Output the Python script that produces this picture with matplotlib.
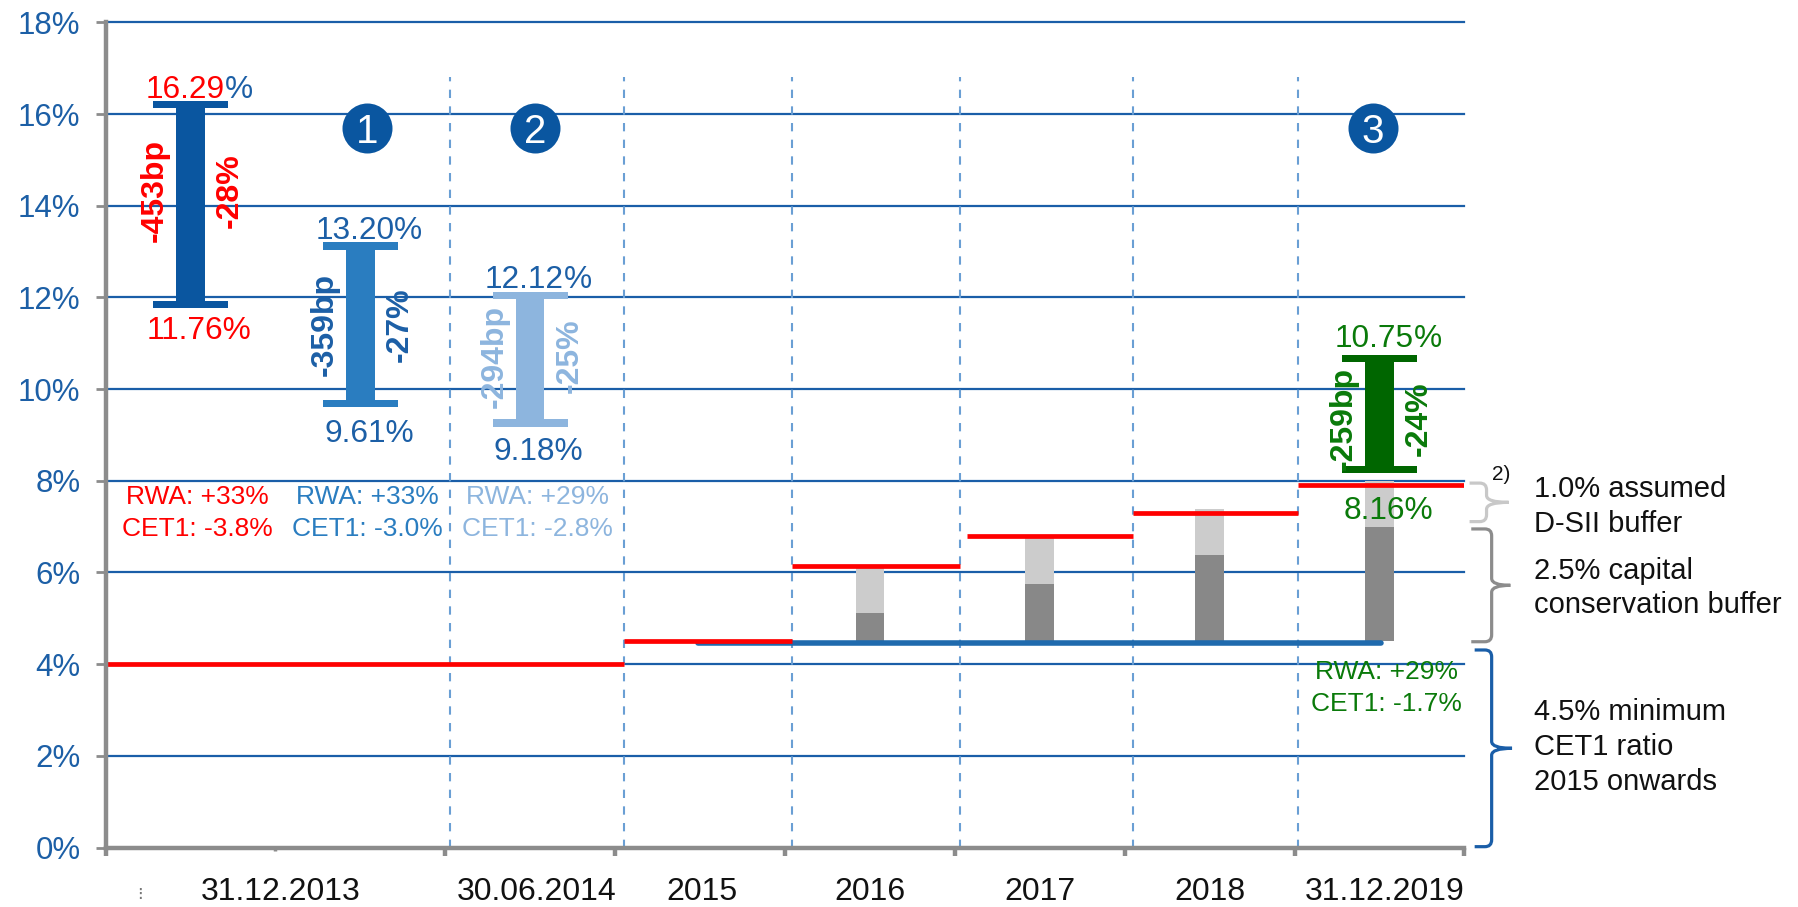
import matplotlib
matplotlib.use("Agg")
import matplotlib.pyplot as plt
from matplotlib.path import Path
from matplotlib.patches import PathPatch

plt.rcParams["font.family"] = ["Liberation Sans", "DejaVu Sans"]

# ---------------------------------------------------------------- data
period_labels = ["31.12.2013", "30.06.2014", "2015", "2016", "2017", "2018", "31.12.2019"]
period_pos = [1.03, 2.54, 3.51, 4.5, 5.5, 6.5, 7.53]

range_x = [0.5, 1.5, 2.5, 7.5]
range_top = [16.29, 13.20, 12.12, 10.75]
range_bottom = [11.76, 9.61, 9.18, 8.16]
range_bp = ["-453bp", "-359bp", "-294bp", "-259bp"]
range_pct = ["-28%", "-27%", "-25%", "-24%"]
rwa_change = ["+33%", "+33%", "+29%", "+29%"]
cet1_change = ["-3.8%", "-3.0%", "-2.8%", "-1.7%"]

# CET1 requirement steps (red)
req_start = [0.0, 3.05, 4.04, 5.07, 6.05, 7.02]
req_end = [3.05, 4.04, 5.03, 6.05, 7.02, 8.0]
req_level = [4.0, 4.5, 6.15, 6.8, 7.3, 7.9]

# phase-in of buffers on top of the 4.5% minimum
buffer_x = [4.5, 5.5, 6.5, 7.5]
min_cet1 = 4.5
ccb_top = [5.125, 5.75, 6.375, 7.0]
dsii_top = [6.125, 6.75, 7.375, 8.0]

step_x = [1.54, 2.53, 7.46]
step_labels = ["1", "2", "3"]

brace_ranges = [(7.0, 8.0), (4.5, 7.0), (0.0, 4.5)]
brace_lines = [["1.0% assumed", "D-SII buffer"],
               ["2.5% capital", "conservation buffer"],
               ["4.5% minimum", "CET1 ratio", "2015 onwards"]]

# ---------------------------------------------------------------- styles
GRID = "#1a5ea8"
AXIS = "#8c8c8c"
TICKBLUE = "#1c5fa6"
RED = "#ff0000"
GREEN = "#0a7a0a"
stem_colors = ["#0a56a0", "#2a7dc0", "#8db5de", "#006600"]
value_colors = [RED, TICKBLUE, TICKBLUE, GREEN]
top_pct_colors = [TICKBLUE, TICKBLUE, TICKBLUE, GREEN]
change_colors = [RED, TICKBLUE, "#8db5de", GREEN]
rwa_colors = [RED, "#2a7dc0", "#8db5de", GREEN]

fig = plt.figure(figsize=(17.98, 9.07), dpi=100)
ax = fig.add_axes([0.0587, 0.0655, 0.7558, 0.9099])
ax.set_xlim(0, 8)
ax.set_ylim(0, 18)

# axes, ticks, grid
for s in ("top", "right"):
    ax.spines[s].set_visible(False)
for s in ("left", "bottom"):
    ax.spines[s].set_color(AXIS)
    ax.spines[s].set_linewidth(3.2)
    ax.spines[s].set_zorder(8)

ax.set_yticks(range(0, 19, 2))
ax.set_yticklabels([f"{v}%" for v in range(0, 19, 2)])
ax.tick_params(axis="y", length=7, width=2, color=AXIS, labelsize=22.5,
               labelcolor=TICKBLUE, pad=11)
ax.yaxis.grid(True, color=GRID, lw=1.6)
ax.set_axisbelow(True)
for gl in ax.get_ygridlines():
    gl.set_clip_on(False)

ax.set_xticks([0, 2, 3, 4, 5, 6, 7, 8])
ax.set_xticklabels([])
ax.set_xticks([1], minor=True)
ax.tick_params(axis="x", which="major", length=6, width=3.2, color=AXIS)
ax.tick_params(axis="x", which="minor", length=2, width=2.5, color=AXIS)

xt = ax.get_xaxis_transform()
for lab, px in zip(period_labels, period_pos):
    ax.text(px, -0.0635, lab, transform=xt, ha="center", va="baseline",
            fontsize=23, color="#111111")
ax.text(0.2, -0.0635, "\u205d", transform=xt, ha="center", va="baseline",
        fontsize=13, color="#777777", family="DejaVu Sans")

# period dividers
ax.vlines([2.03, 3.05, 4.04, 5.03, 6.05, 7.02], 0, 16.8, colors="#6a9fd4",
          linestyles=(0, (4, 4)), lw=1.5, zorder=1)

# buffer phase-in columns
ax.bar(buffer_x, [c - min_cet1 for c in ccb_top], bottom=min_cet1, width=0.17,
       color="#888888", zorder=2)
ax.bar(buffer_x, [d - c for d, c in zip(dsii_top, ccb_top)], bottom=ccb_top,
       width=0.17, color="#cccccc", zorder=2)

# minimum floor and requirement steps
ax.plot([3.49, 7.51], [min_cet1 - 0.03] * 2, color="#1f6aad", lw=4,
        solid_capstyle="round", zorder=4)
ax.hlines(req_level, req_start, req_end, colors=RED, lw=3.4, zorder=5)

# CET1 ratio ranges drawn as I-beams
cap_h = 0.16
heights = [t - b for t, b in zip(range_top, range_bottom)]
ax.bar(range_x, heights, bottom=range_bottom, width=0.167, color=stem_colors, zorder=6)
ax.bar(range_x, cap_h, bottom=[t - cap_h for t in range_top], width=0.44,
       color=stem_colors, zorder=6)
ax.bar(range_x, cap_h, bottom=range_bottom, width=0.44, color=stem_colors, zorder=6)

VALUE_FS = 22.8
top_rise = [2.0, 2.2, 2.5, 5.8]          # points above the upper value
low_drop = [22.0, 25.0, 24.0, 32.5]      # points below the lower value (baseline)
mid_shift = [0.3, 0.0, 0.07, -0.1]
for i, x in enumerate(range_x):
    t, b = range_top[i], range_bottom[i]
    num = ax.annotate(f"{t:.2f}", (x - 0.033, t), xytext=(0, top_rise[i]),
                      textcoords="offset points", ha="center", va="baseline",
                      fontsize=VALUE_FS, color=value_colors[i], zorder=9)
    ax.annotate("%", xy=(1, 0), xycoords=num, ha="left", va="bottom",
                fontsize=VALUE_FS, color=top_pct_colors[i], zorder=9)
    ax.annotate(f"{b:.2f}%", (x + 0.05, b), xytext=(0, -low_drop[i]),
                textcoords="offset points", ha="center", va="baseline",
                fontsize=VALUE_FS, color=value_colors[i], zorder=9)
    ym = (t + b) / 2 + mid_shift[i]
    ax.text(x - 0.21, ym, range_bp[i], rotation=90, ha="center", va="center",
            fontsize=23, fontweight="bold", color=change_colors[i], zorder=9)
    ax.text(x + 0.23, ym, range_pct[i], rotation=90, ha="center", va="center",
            fontsize=23, fontweight="bold", color=change_colors[i], zorder=9)

rwa_y = [7.64, 7.64, 7.64, 3.82]
for i, x in enumerate(range_x):
    ax.text(x + 0.04, rwa_y[i], f"RWA: {rwa_change[i]}", ha="center", va="center",
            fontsize=19, color=rwa_colors[i], zorder=9)
    ax.text(x + 0.04, rwa_y[i] - 0.69, f"CET1: {cet1_change[i]}", ha="center",
            va="center", fontsize=19, color=rwa_colors[i], zorder=9)

# numbered steps
ax.scatter(step_x, [15.7] * len(step_x), s=1296, color="#0a56a0", zorder=7,
           linewidths=0)
for x, lab in zip(step_x, step_labels):
    ax.text(x, 15.7, lab, color="white", fontsize=29, ha="center",
            va="center_baseline", zorder=8)


# braces on the right
def brace(lo, hi, color, x_hook, x_spine, x_tip, inset_top, inset_bot):
    yt, yb = hi - inset_top, lo + inset_bot
    ym = (yt + yb) / 2
    rx, ry = 0.04, 0.15
    verts = [(x_hook, yt), (x_spine - rx, yt), (x_spine, yt), (x_spine, yt - ry),
             (x_spine, ym + ry), (x_spine, ym), (x_tip, ym),
             (x_spine, ym), (x_spine, ym - ry),
             (x_spine, yb + ry), (x_spine, yb), (x_spine - rx, yb), (x_hook, yb)]
    codes = [Path.MOVETO, Path.LINETO, Path.CURVE3, Path.CURVE3,
             Path.LINETO, Path.CURVE3, Path.CURVE3,
             Path.CURVE3, Path.CURVE3,
             Path.LINETO, Path.CURVE3, Path.CURVE3, Path.LINETO]
    ax.add_patch(PathPatch(Path(verts, codes), fill=False, edgecolor=color,
                           lw=2.3, clip_on=False, zorder=5))


brace(*brace_ranges[0], "#c8c8c8", 8.03, 8.13, 8.26, 0.05, 0.11)
brace(*brace_ranges[1], "#8c8c8c", 8.04, 8.16, 8.27, 0.05, -0.01)
brace(*brace_ranges[2], GRID, 8.06, 8.16, 8.28, 0.19, 0.02)

baselines = [[7.653, 6.89], [5.858, 5.11], [2.783, 2.02, 1.257]]
for lines, ys in zip(brace_lines, baselines):
    for line, y in zip(lines, ys):
        ax.text(8.41, y, line, ha="left", va="baseline", fontsize=21,
                color="#111111", clip_on=False)
ax.text(8.163, 8.02, "2)", ha="left", va="baseline", fontsize=15,
        color="#111111", clip_on=False)

fig.savefig("out.png", dpi=100)
